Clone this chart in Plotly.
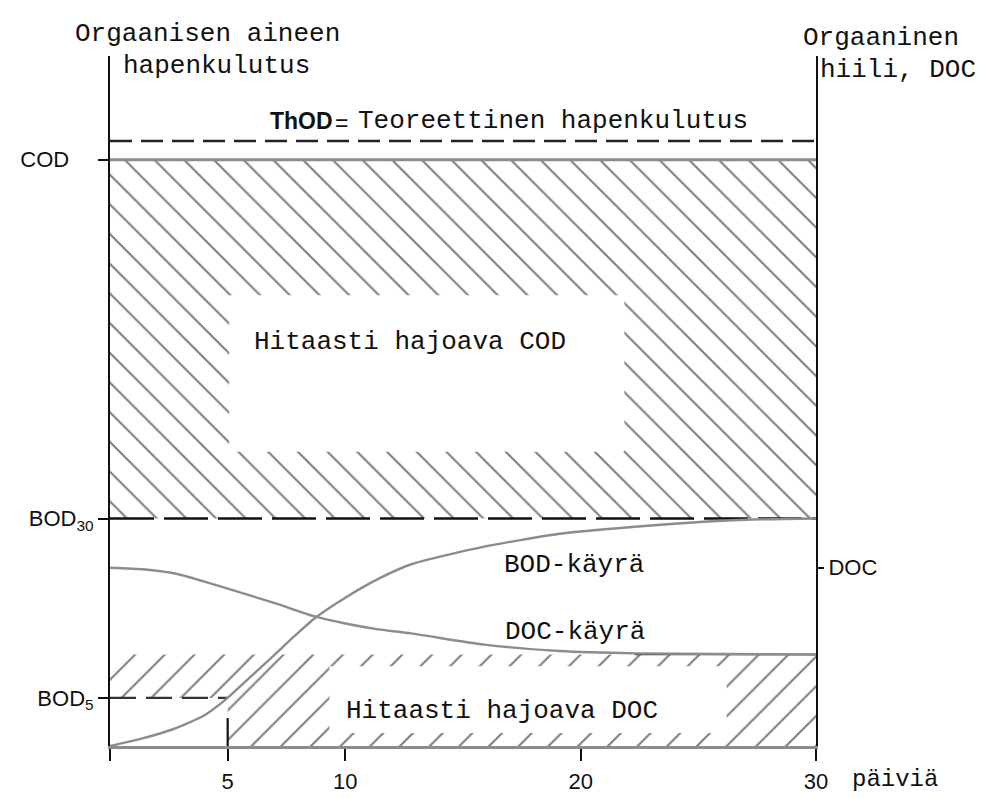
import plotly.graph_objects as go

# ---------------- data ----------------
# oxygen demand levels (arbitrary units, COD = 100)
THOD = 103.2
COD = 100.0
BOD30 = 38.8
BOD5 = 8.2
DOC_START = 30.4        # initial DOC (right axis tick)
DOC_REFRACTORY = 15.6   # slowly degrading DOC level

# BOD curve (days, value)
bod_days = [0, 1.3, 2.7, 4.0, 5.0, 5.7, 6.9, 7.8, 8.7, 10, 11.4, 12.8, 15.9, 19.1, 22.3, 25.4, 27, 30]
bod_vals = [0, 1.2, 2.9, 5.2, 8.2, 10.8, 15.2, 18.6, 21.8, 25.3, 28.5, 31.0, 34.0, 36.2, 37.4, 38.3, 38.6, 38.8]

# DOC curve (days, value)
doc_days = [0, 1.5, 2.9, 4.3, 5.7, 7.2, 8.7, 10, 11.4, 12.8, 15.9, 19.1, 22.3, 30]
doc_vals = [30.4, 30.1, 29.3, 27.7, 26.0, 24.1, 22.1, 20.9, 19.9, 19.2, 17.3, 16.2, 15.8, 15.6]

x_tickvals = [0, 5, 10, 20, 30]
x_ticktext = ["", "5", "10", "20", "30"]
y_tickvals = [BOD5, BOD30, COD]
y_ticktext = ["BOD<sub>5</sub>", "BOD<sub>30</sub>", "COD\u00a0\u00a0\u00a0\u00a0"]
y2_tickvals = [DOC_START]
y2_ticktext = ["DOC"]

# ---------------- layout geometry ----------------
W, H = 984, 798
L_PX, R_PX = 97, 808          # x = 0 and x = 30
B_PX, T_PX = 740, 48          # y = 0 and top of axes
PX_PER_Y = 5.88
Y_TOP = (B_PX - T_PX) / PX_PER_Y
X_MAX = 30


def dx(px):
    return (px - L_PX) * X_MAX / (R_PX - L_PX)


def dy(py):
    return (B_PX - py) / PX_PER_Y


def paper_x(px):
    return (px - L_PX) / (R_PX - L_PX)


def paper_y(py):
    return (B_PX - py) / (B_PX - T_PX)


MONO = "Liberation Mono"
SANS = "Liberation Sans"
GRAY = "#8c8c8c"
INK = "#111111"

fig = go.Figure()

# upper hatched region: slowly degrading COD
fig.add_trace(go.Scatter(
    x=[0, X_MAX, X_MAX, 0, 0], y=[BOD30, BOD30, COD, COD, BOD30],
    fill="toself", mode="lines", line=dict(width=0),
    fillcolor="white",
    fillpattern=dict(shape="\\", size=21, solidity=0.1, fgcolor="#000000", bgcolor="white"),
    hoverinfo="skip", showlegend=False))

# lower hatched region: slowly degrading DOC
fig.add_trace(go.Scatter(
    x=[0, 5, 5, X_MAX, X_MAX, 0, 0],
    y=[BOD5, BOD5, 0, 0, DOC_REFRACTORY, DOC_REFRACTORY, BOD5],
    fill="toself", mode="lines", line=dict(width=0),
    fillcolor="white",
    fillpattern=dict(shape="/", size=21, solidity=0.1, fgcolor="#000000", bgcolor="white"),
    hoverinfo="skip", showlegend=False))

# white text boxes cutting the hatching
for (x0, x1, y0, y1) in [
    (dx(217), dx(615), dy(445), dy(288)),
    (dx(318), dx(718), dy(727), dy(660)),
]:
    fig.add_trace(go.Scatter(
        x=[x0, x1, x1, x0, x0], y=[y0, y0, y1, y1, y0],
        fill="toself", mode="lines", line=dict(width=0),
        fillcolor="white", hoverinfo="skip", showlegend=False))

# ThOD dashed line
fig.add_trace(go.Scatter(x=[0, X_MAX], y=[THOD, THOD], mode="lines",
                         line=dict(color="#222222", width=2.4, dash="22px,9px"),
                         hoverinfo="skip", showlegend=False))
# COD solid line
fig.add_trace(go.Scatter(x=[0, X_MAX], y=[COD, COD], mode="lines",
                         line=dict(color=GRAY, width=3),
                         hoverinfo="skip", showlegend=False))
# BOD30 dashed line
fig.add_trace(go.Scatter(x=[0, X_MAX], y=[BOD30, BOD30], mode="lines",
                         line=dict(color=INK, width=2.4, dash="44px,10px"),
                         hoverinfo="skip", showlegend=False))
# BOD5 dashed line
fig.add_trace(go.Scatter(x=[0, 5], y=[BOD5, BOD5], mode="lines",
                         line=dict(color="#333333", width=2.4, dash="26px,10px"),
                         hoverinfo="skip", showlegend=False))
# day-5 marker
fig.add_trace(go.Scatter(x=[5, 5], y=[0, dy(712)], mode="lines",
                         line=dict(color=INK, width=2.2),
                         hoverinfo="skip", showlegend=False))
# DOC floor line to the right axis
fig.add_trace(go.Scatter(x=[doc_days[-2], X_MAX], y=[DOC_REFRACTORY, DOC_REFRACTORY], mode="lines",
                         line=dict(color="#444444", width=1.6),
                         hoverinfo="skip", showlegend=False))

# BOD curve
fig.add_trace(go.Scatter(x=bod_days, y=bod_vals, mode="lines",
                         line=dict(color=GRAY, width=2.4, shape="spline", smoothing=0.6),
                         hoverinfo="skip", showlegend=False))
# DOC curve (on the DOC axis)
fig.add_trace(go.Scatter(x=doc_days, y=doc_vals, mode="lines", yaxis="y2",
                         line=dict(color=GRAY, width=2.4, shape="spline", smoothing=0.7),
                         hoverinfo="skip", showlegend=False))

# ---------------- texts ----------------
def note(text, px, py, font=MONO, size=26, anchor="left"):
    fig.add_annotation(x=paper_x(px), y=paper_y(py), xref="paper", yref="paper", text=text,
                       showarrow=False, xanchor=anchor, yanchor="middle",
                       font=dict(family=font, size=size, color=INK))


note("Orgaanisen aineen", 60, 26)
note("hapenkulutus", 108, 58)
note("<b>ThOD</b>", 256, 113, font=SANS, size=23)
note("=", 322, 115, font=SANS, size=23)
note("Teoreettinen hapenkulutus", 345, 113)
note("Orgaaninen", 793, 30)
note("hiili, DOC", 810, 62)
note("Hitaasti hajoava COD", 240, 335)
note("BOD-käyrä", 492, 558)
note("DOC-käyrä", 493, 626)
note("Hitaasti hajoava DOC", 333, 705)
note("päiviä", 842, 774, size=24)

fig.update_layout(
    width=W, height=H,
    margin=dict(l=L_PX, r=W - R_PX, t=T_PX, b=H - B_PX, pad=0),
    paper_bgcolor="white", plot_bgcolor="white",
    xaxis=dict(range=[0, X_MAX], tickvals=x_tickvals, ticktext=x_ticktext,
               ticks="outside", ticklen=12, tickwidth=2, tickcolor=INK,
               showline=True, linecolor=GRAY, linewidth=2.5,
               showgrid=False, zeroline=False, ticklabelstandoff=2,
               tickfont=dict(family=SANS, size=22, color=INK)),
    yaxis=dict(range=[0, Y_TOP], tickvals=y_tickvals, ticktext=y_ticktext,
               ticks="outside", ticklen=10, tickwidth=2, tickcolor=INK,
               showline=True, linecolor=INK, linewidth=2,
               showgrid=False, zeroline=False,
               tickfont=dict(family=SANS, size=22, color=INK)),
    yaxis2=dict(range=[0, Y_TOP], overlaying="y", side="right", anchor="x",
                tickvals=y2_tickvals, ticktext=y2_ticktext,
                ticks="outside", ticklen=6, tickwidth=2, tickcolor=INK,
                showline=True, linecolor=INK, linewidth=2,
                showgrid=False, zeroline=False,
                tickfont=dict(family=SANS, size=22, color=INK)),
    showlegend=False,
)

fig.write_html("out.html")
